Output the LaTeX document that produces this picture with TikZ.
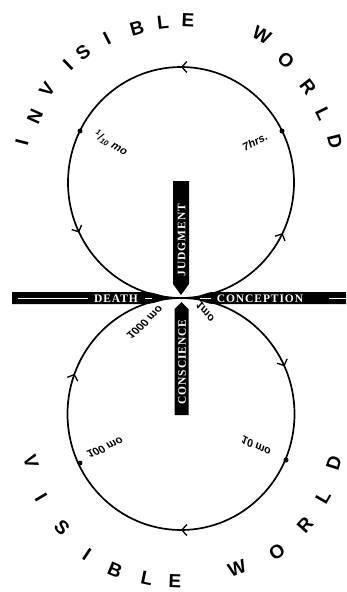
\documentclass[tikz,border=0pt]{standalone}
\usepackage{fontspec}
\usetikzlibrary{decorations.markings,arrows.meta}
\newfontfamily\bigfont{Liberation Sans}
\newfontfamily\barfont[LetterSpace=8]{Liberation Serif}
\tikzset{chev/.tip={Straight Barb[length=5pt,width=11pt,line width=1.3pt]}}
\begin{document}
\begin{tikzpicture}[x=1pt,y=-1pt,
  big/.style={font=\bigfont\bfseries\fontsize{19}{19}\selectfont, inner sep=0pt},
  barlbl/.style={font=\barfont\bfseries\fontsize{11.5}{12}\selectfont, text=white, inner sep=0pt},
  lbl/.style={font=\bigfont\bfseries\itshape\fontsize{11}{12}\selectfont, inner sep=0pt},
  dot/.style={circle, fill=black, inner sep=0pt, minimum size=5pt},
  ring/.style={line width=1.7pt, line cap=round},
  upmarks/.style={postaction={decorate}, decoration={markings,
     mark=at position 0.177 with {\arrow{chev}},
     mark=at position 0.5 with {\arrow{chev}},
     mark=at position 0.822 with {\arrow{chev}}}},
  lowmarks/.style={postaction={decorate}, decoration={markings,
     mark=at position 0.182 with {\arrow{chev}},
     mark=at position 0.5 with {\arrow{chev}},
     mark=at position 0.807 with {\arrow{chev}}}}
]
\useasboundingbox (0,0) rectangle (346,592);
\fill[white] (0,0) rectangle (346,592);

% circles
\coordinate (tp) at (181,298);
\draw[ring, upmarks] (tp) arc[start angle=-90, end angle=270, x radius=113pt, y radius=115.5pt];
\draw[ring, lowmarks] (tp) arc[start angle=90, end angle=-270, x radius=113.5pt, y radius=116pt];

% dots
\node[dot] (d1) at (80,131) {};
\node[dot] (d2) at (282,131) {};
\node[dot] (d3) at (80,463) {};
\node[dot] (d4) at (286,460) {};

% horizontal bar
\fill (12,292) -- (143,292) .. controls (157,292) and (162,297.2) .. (173,297.2)
  -- (190,297.2) .. controls (200,297.2) and (205,292) .. (214,292) -- (346,292)
  -- (346,304) -- (214,304) .. controls (205,304) and (200,298.8) .. (190,298.8)
  -- (173,298.8) .. controls (162,298.8) and (157,304) .. (143,304) -- (12,304) -- cycle;
\draw[white, line width=0.7pt] (18,298) -- (88,298);
\draw[white, line width=0.7pt] (145,298) -- (152,298);
\draw[white, line width=0.7pt] (200,298) -- (211,298);
\draw[white, line width=0.7pt] (329,298) -- (346,298);

% vertical bars
\fill (173,181) -- (189,181) -- (189,284) -- (181,295) -- (173,284) -- cycle;
\fill (181.5,302) -- (188.5,309) -- (188.5,415) -- (174.5,415) -- (174.5,309) -- cycle;

% bar texts
\node[barlbl] (death) at (116,298.5) {DEATH};
\node[barlbl] (concep) at (260,298.5) {CONCEPTION};
\node[barlbl, rotate=90] (judg) at (181.5,240) {JUDGMENT};
\node[barlbl, rotate=90] (consc) at (182,362) {CONSCIENCE};

% small labels
\node[lbl, rotate=-30] (l1) at (111,143) {\textsuperscript{1}/\textsubscript{10} mo};
\node[lbl, rotate=28] (l2) at (255,142) {7hrs.};
\node[lbl, rotate=42, yscale=-1] (l3) at (145,323) {1000 mo};
\node[lbl, rotate=-52, yscale=-1] (l4) at (205,312) {1mo};
\node[lbl, rotate=23, yscale=-1] (l5) at (105,448) {100 mo};
\node[lbl, rotate=-28, yscale=-1] (l6) at (256,446) {10 mo};

% INVISIBLE WORLD
\foreach \c/\px/\py/\r [count=\i] in {I/22/142/75.7, N/35/117/65.8, V/47/90/55.4,
   I/68/65/43.9, S/83/52/36.9, I/107/38/27.1, B/137/28/15.9, L/163/22/6.4,
   E/188/20/-2.5, W/262/35/-29.1, O/286/60/-40.3, R/308/87/-52.6,
   L/323/114/-63.9, D/335/142/-75.8}
  \node[big, rotate=\r] (up\i) at (\px,\py) {\c};

% VISIBLE WORLD
\foreach \c/\px/\py/\r [count=\i] in {V/31/462/-72.4, I/41/497/-59.5, S/62/528/-46.2,
   I/87/555/-33.7, B/115/570/-22.9, L/147/578/-11.7, E/175/581/-2,
   W/237/568/20, O/277/552/34.8, R/305/525/48.2, L/323/497/60, D/334/463/72.7}
  \node[big, rotate=\r] (lo\i) at (\px,\py) {\c};
\end{tikzpicture}
\end{document}
